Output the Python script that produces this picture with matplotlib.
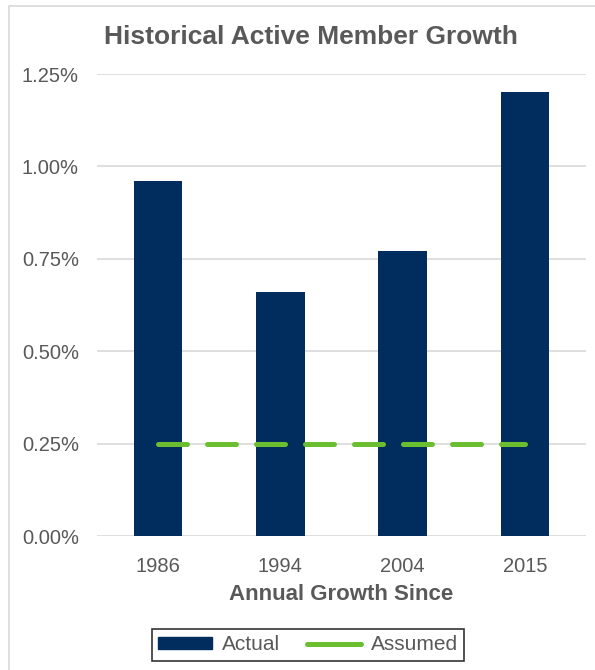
import matplotlib
matplotlib.use("Agg")
import matplotlib.pyplot as plt
from matplotlib.patches import Rectangle, Patch
from matplotlib.lines import Line2D
from matplotlib.ticker import FuncFormatter

plt.rcParams['font.family'] = ['Liberation Sans', 'DejaVu Sans']

years = ["1986", "1994", "2004", "2015"]
actual = [0.96, 0.66, 0.77, 1.20]
assumed = [0.25, 0.25, 0.25, 0.25]
yticks = [0.0, 0.25, 0.5, 0.75, 1.0, 1.25]

navy = "#012D5E"
green = "#6BBE30"
text_gray = "#595959"
grid_gray = "#D9D9D9"

W, H = 595, 670
fig = plt.figure(figsize=(W / 100, H / 100), dpi=100)

# light chart-area outline
fig.patches.append(Rectangle((9 / W, -0.1), 1.2, 1.1 - 6 / H, transform=fig.transFigure,
                             fill=False, edgecolor=grid_gray, linewidth=1.2))

ax = fig.add_axes([97 / W, 1 - 536 / H, 489 / W, (536 - 74) / H])
x = list(range(len(years)))
ax.bar(x, actual, width=0.395, color=navy, zorder=3)
ax.plot(x, assumed, color=green, linewidth=3.6, linestyle=(0, (5.8, 4.0)),
        dash_capstyle='round', zorder=4)

ax.set_xlim(-0.5, 3.5)
ax.set_ylim(0, 1.25)
ax.set_yticks(yticks)
ax.yaxis.set_major_formatter(FuncFormatter(lambda v, p: f"{v:.2f}%"))
ax.set_xticks(x)
ax.set_xticklabels(years)
ax.tick_params(axis='both', length=0, labelsize=14.5, colors=text_gray)
ax.tick_params(axis='y', pad=13)
ax.tick_params(axis='x', pad=15)
ax.grid(axis='y', color=grid_gray, linewidth=1.2, zorder=0)
for s in ax.spines.values():
    s.set_visible(False)

ax.set_xlabel("Annual Growth Since", fontsize=16, fontweight='bold',
              color=text_gray, labelpad=6)
fig.text(0.5 + 13 / W, 1 - 37 / H, "Historical Active Member Growth", ha='center',
         va='center', fontsize=19, fontweight='bold', color=text_gray)

legend_handles = [
    Patch(facecolor=navy, edgecolor=navy),
    Line2D([], [], color=green, linewidth=3.6, solid_capstyle='round'),
]
leg = fig.legend(legend_handles, ["Actual", "Assumed"],
                 loc='center', bbox_to_anchor=(308 / W, 1 - 645 / H), ncol=2,
                 fontsize=15, frameon=True, fancybox=False, handlelength=2.6,
                 handleheight=0.5, columnspacing=1.3, handletextpad=0.45,
                 borderpad=0.3)
leg.get_frame().set_edgecolor("black")
leg.get_frame().set_linewidth(1.2)
for t in leg.get_texts():
    t.set_color(text_gray)

fig.savefig("out.png", dpi=100)
